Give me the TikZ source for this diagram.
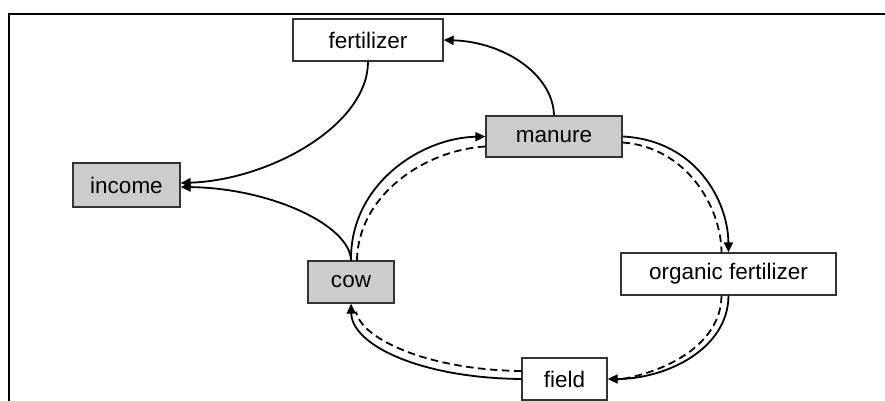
\documentclass[tikz,border=0pt]{standalone}
\usepackage{fontspec}
\setmainfont{Liberation Sans}
\usetikzlibrary{arrows.meta}
\definecolor{boxgray}{HTML}{CCCCCC}
\definecolor{edgegray}{HTML}{333333}
\tikzset{
  box/.style={draw=edgegray, line width=1.3pt, fill=white, inner sep=0pt, font=\fontsize{22.5}{24}\selectfont, text=black},
  graybox/.style={box, fill=boxgray},
  conn/.style={line width=1.8pt, black},
  arr/.style={conn, -{Triangle[length=10pt,width=9pt]}},
  dashconn/.style={line width=1.8pt, black, dash pattern=on 7.5pt off 4.5pt},
}
\begin{document}
\begin{tikzpicture}[x=1pt,y=-1pt]
\useasboundingbox (0,0) rectangle (885,401);
% frame
\draw[line width=2.6pt, black] (9,401) -- (9,14) -- (885,14);
% nodes
\node[box, minimum width=150pt, minimum height=42pt] (fert) at (368,40) {fertilizer};
\node[graybox, minimum width=107pt, minimum height=44pt] (income) at (126.5,185) {income};
\node[graybox, minimum width=136pt, minimum height=41pt] (manure) at (554,136.5) {manure};
\node[box, minimum width=215pt, minimum height=42pt] (org) at (728.5,274) {organic fertilizer};
\node[box, minimum width=85pt, minimum height=42pt] (field) at (564.5,379) {field};
\node[graybox, minimum width=86pt, minimum height=42pt] (cow) at (351,282) {cow};
% connectors
\draw[arr] (manure.north) .. controls (553,75) and (505,42) .. (fert.east);
\draw[arr] (fert.south) .. controls (368,125) and (270,180) .. ([yshift=2pt]income.east);
\draw[arr] (cow.north) .. controls (350,225) and (270,188) .. ([yshift=-2pt]income.east);
\draw[arr] (cow.north) .. controls (350,185) and (420,138) .. (manure.west);
\draw[dashconn] ([xshift=6pt]cow.north) .. controls (358,195) and (425,150) .. ([yshift=-10pt]manure.west);
\draw[arr] (manure.east) .. controls (695,140) and (728,200) .. (org.north);
\draw[dashconn] ([yshift=-6pt]manure.east) .. controls (685,147) and (721,205) .. ([xshift=-7pt]org.north);
\draw[arr] (org.south) .. controls (728,350) and (665,379) .. (field.east);
\draw[dashconn] ([xshift=-7pt]org.south) .. controls (721,345) and (665,373) .. ([xshift=8pt,yshift=-1pt]field.east);
\draw[arr] (field.west) .. controls (420,378) and (352,345) .. (cow.south);
\draw[dashconn] ([yshift=8pt]field.west) .. controls (430,370) and (362,340) .. ([xshift=5pt,yshift=-8pt]cow.south);
\end{tikzpicture}
\end{document}
